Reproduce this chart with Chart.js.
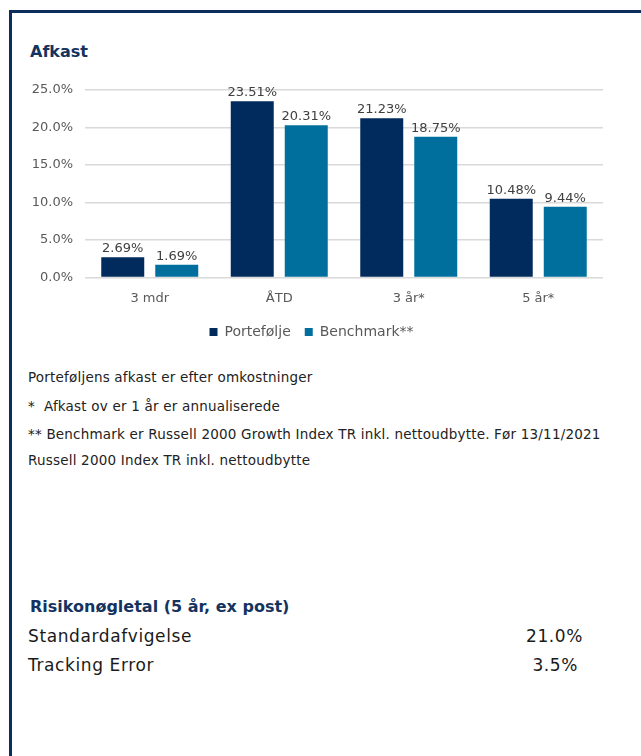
<!DOCTYPE html>
<html>
<head>
<meta charset="utf-8">
<script src="https://cdn.jsdelivr.net/npm/chart.js@4"></script>
<style>
    body { margin: 0; background: #fff; font-family: "DejaVu Sans", sans-serif; }
    #frame { position: absolute; left: 9px; top: 10px; width: 700px; height: 800px; border: 3px solid #0f2d5a; }
    .abs { position: absolute; white-space: nowrap; }
    .title { font-weight: bold; color: #14335f; }
    .note { font-size: 13.5px; color: #222; letter-spacing: 0.2px; }
    .risk { font-size: 17px; color: #1a1a1a; letter-spacing: 0.6px; }
    #chart-box { position: absolute; left: 20px; top: 68px; width: 600px; height: 281px; }
</style>
</head>
<body>
<div id="frame"></div>
<div class="abs title" style="left:30px; top:42px; font-size:16px;">Afkast</div>
<div id="chart-box"><canvas id="afkast-graph"></canvas></div>
<div class="abs note" style="left:28px; top:369px;">Porteføljens afkast er efter omkostninger</div>
<div class="abs note" style="left:28px; top:398px;">*&nbsp; Afkast ov er 1 år er annualiserede</div>
<div class="abs note" style="left:28px; top:426px;">** Benchmark er Russell 2000 Growth Index TR inkl. nettoudbytte. Før 13/11/2021</div>
<div class="abs note" style="left:28px; top:452px;">Russell 2000 Index TR inkl. nettoudbytte</div>
<div class="abs title" style="left:30px; top:597px; font-size:16px;">Risikonøgletal (5 år, ex post)</div>
<div class="abs risk" style="left:28px; top:626px;">Standardafvigelse</div>
<div class="abs risk" style="left:28px; top:655px;">Tracking Error</div>
<div class="abs risk" style="right:58px; top:626px;">21.0%</div>
<div class="abs risk" style="right:63px; top:655px;">3.5%</div>
<script>
const periods = ['3 mdr', 'ÅTD', '3 år*', '5 år*'];
const portfolio = [2.69, 23.51, 21.23, 10.48];
const benchmark = [1.69, 20.31, 18.75, 9.44];
const seriesNames = ['Portefølje', 'Benchmark**'];
const yTicks = [0, 5, 10, 15, 20, 25];

const navy = '#002b5c';
const teal = '#006f9d';
const textGrey = '#595959';

const barLabels = {
    id: 'barLabels',
    afterDatasetsDraw(chart) {
        const ctx = chart.ctx;
        ctx.save();
        ctx.font = '13px "DejaVu Sans"';
        ctx.fillStyle = '#404040';
        ctx.textAlign = 'center';
        ctx.textBaseline = 'bottom';
        chart.data.datasets.forEach((ds, i) => {
            chart.getDatasetMeta(i).data.forEach((bar, j) => {
                ctx.fillText(ds.data[j].toFixed(2) + '%', bar.x, bar.y - 2);
            });
        });
        ctx.restore();
    }
};

new Chart(document.getElementById('afkast-graph'), {
    type: 'bar',
    data: {
        labels: periods,
        datasets: [{label: seriesNames[0], data: portfolio, backgroundColor: navy},
                   {label: seriesNames[1], data: benchmark, backgroundColor: teal}]
    },
    options: {
        responsive: true,
        maintainAspectRatio: false,
        animation: false,
        categoryPercentage: 0.834,
        barPercentage: 0.796,
        layout: {padding: {top: 22, right: 17}},
        scales: {
            x: {
                grid: {display: false},
                border: {display: false},
                ticks: {color: textGrey, font: {family: 'DejaVu Sans', size: 13}, padding: 5}
            },
            y: {
                min: 0, max: 25,
                afterBuildTicks: axis => { axis.ticks = yTicks.map(v => ({value: v})); },
                afterFit: axis => { axis.width = 65; },
                grid: {color: '#d9d9d9', lineWidth: 1.5, drawTicks: false},
                border: {display: false},
                ticks: {color: textGrey, font: {family: 'DejaVu Sans', size: 13}, padding: 12,
                        callback: v => v.toFixed(1) + '%'}
            }
        },
        plugins: {
            tooltip: {enabled: false},
            legend: {
                position: 'bottom',
                labels: {color: textGrey, font: {family: 'DejaVu Sans', size: 14},
                         boxWidth: 8, boxHeight: 8, padding: 14}
            }
        }
    },
    plugins: [barLabels]
});
</script>
</body>
</html>
